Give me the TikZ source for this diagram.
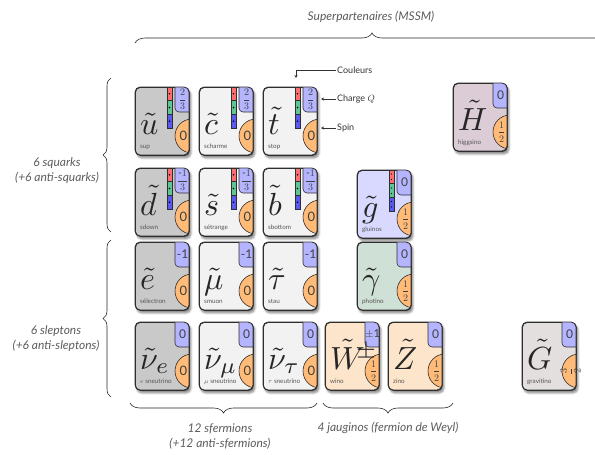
\documentclass[tikz,border=0pt]{standalone}
\usepackage{amsmath}
\usepackage{fontspec}
\setmainfont{Lato}
\usetikzlibrary{decorations.pathreplacing,arrows.meta,shadows.blur}

\definecolor{cardedge}{HTML}{2E2E2E}
\definecolor{fillA}{HTML}{C9C9C9}
\definecolor{fillB}{HTML}{F2F2F2}
\definecolor{fillGluon}{HTML}{D9D9FF}
\definecolor{fillPhoton}{HTML}{CFE0D6}
\definecolor{fillWeak}{HTML}{FDE5CC}
\definecolor{fillHiggs}{HTML}{DCCCD6}
\definecolor{fillGrav}{HTML}{E4DFDF}
\definecolor{spinorange}{HTML}{FFBB77}
\definecolor{chargeblue}{HTML}{B4B4FF}
\definecolor{colr}{HTML}{FF6F6F}
\definecolor{colg}{HTML}{5FC595}
\definecolor{colb}{HTML}{5A5AF0}
\definecolor{textgray}{HTML}{555555}
\definecolor{capgray}{HTML}{5C5C5C}

\newcommand\bigsym[1]{\scalebox{3.2}{$#1$}}

\tikzset{
  cardbox/.style={draw=cardedge, line width=0.8pt, rounded corners=5pt,
    minimum width=54pt, minimum height=68pt, anchor=north west, inner sep=0pt,
    blur shadow={shadow xshift=1.5pt, shadow yshift=-2.5pt, shadow blur steps=8, shadow opacity=50}},
  cardline/.style={draw=cardedge, line width=0.8pt, rounded corners=5pt},
  spinbox/.style={fill=spinorange, draw=cardedge, line width=0.6pt},
  chargebox/.style={fill=chargeblue, draw=cardedge, line width=0.6pt, rounded corners=4pt},
  stripedge/.style={draw=cardedge, line width=0.5pt},
  symlabel/.style={anchor=base west, inner sep=0pt, text=black!85},
  namelabel/.style={anchor=base west, inner sep=0pt, font=\fontsize{6.3}{7}\selectfont, text=textgray},
  chargelabel/.style={inner sep=0pt, font=\fontsize{12}{12}\selectfont, text=black!75},
  spinlabel/.style={inner sep=0pt, font=\fontsize{13}{13}\selectfont, text=black!75},
  caption/.style={inner sep=1pt, font=\fontsize{12}{15}\selectfont\itshape, text=capgray, align=center},
  annot/.style={inner sep=1pt, font=\fontsize{9}{10}\selectfont, text=black!80, anchor=west},
  annarrow/.style={draw=black!80, line width=0.5pt, -{Stealth[length=3pt,width=3pt]}},
  bracebar/.style={draw=black!85, line width=0.6pt, decorate, decoration={brace, amplitude=#1}},
}

% colour strip of a squark: red, green, blue cells with a dot each
\newcommand\quarkstrip{%
  \draw[stripedge, fill=colr] (32,0) rectangle (37,13.7);
  \draw[stripedge, fill=colg] (32,13.7) rectangle (37,27.3);
  \draw[stripedge, fill=colb] (32,27.3) rectangle (37,41);
  \foreach \yy in {6.8,20.5,34.2} \fill (34.5,\yy) circle (0.9);}
% colour strip of the gluino: colour/anticolour cells
\newcommand\gluonstrip{%
  \draw[stripedge, fill=colr] (32,0) rectangle (37,13.7);
  \draw[stripedge, fill=colg] (32,13.7) rectangle (37,27.3);
  \draw[stripedge, fill=colb] (32,27.3) rectangle (37,41);
  \foreach \yy in {4,9.5,18,23.5,31.5,37} \fill (34.5,\yy) circle (0.6);}

% #1 name, #2 top-left corner, #3 fill, #4 symbol, #5 name text,
% #6 charge, #7 spin, #8 colour strip
\newcommand\spart[8]{%
  \begin{scope}[shift={(#2)}]
    \node[cardbox, fill=#3] (#1) at (0,0) {};
    \begin{scope}
      \clip[rounded corners=5pt] (0,0) rectangle (54,68);
      \draw[spinbox] (57,49) circle (17);
      \draw[chargebox] (40,-6) -- (40,25) -- (60,25) -- (60,-6);
    \end{scope}
    \draw[cardline] (0,0) rectangle (54,68);
    #8
    \node[symlabel] at (5,47) {\bigsym{#4}};
    \node[namelabel] at (5,61) {#5};
    \node[chargelabel] at (47.5,12.5) {#6};
    \node[spinlabel] at (48.5,49) {#7};
  \end{scope}}

\newcommand\fr[2]{{\fontsize{10}{10}\selectfont$\displaystyle\frac{#1}{#2}$}}

\begin{document}
\begin{tikzpicture}[x=1pt, y=-1pt]
\useasboundingbox (0,0) rectangle (595,455);

% squarks
\spart{su}{135,87}{fillA}{\tilde{u}}{sup}{\fr{2}{3}}{0}{\quarkstrip}
\spart{sc}{199,87}{fillB}{\tilde{c}}{scharme}{\fr{2}{3}}{0}{\quarkstrip}
\spart{st}{263,87}{fillB}{\tilde{t}}{stop}{\fr{2}{3}}{0}{\quarkstrip}
\spart{sd}{135,168}{fillA}{\tilde{d}}{sdown}{\fr{\text{-}1}{3}}{0}{\quarkstrip}
\spart{ss}{199,168}{fillB}{\tilde{s}}{sétrange}{\fr{\text{-}1}{3}}{0}{\quarkstrip}
\spart{sb}{263,168}{fillB}{\tilde{b}}{sbottom}{\fr{\text{-}1}{3}}{0}{\quarkstrip}

% sleptons
\spart{se}{135,242}{fillA}{\tilde{e}}{sélectron}{-1}{0}{}
\spart{smu}{199,242}{fillB}{\tilde{\mu}}{smuon}{-1}{0}{}
\spart{stau}{263,242}{fillB}{\tilde{\tau}}{stau}{-1}{0}{}
\spart{sne}{135,322}{fillA}{\tilde{\nu}_e}{$e$ sneutrino}{0}{0}{}
\spart{snmu}{199,322}{fillB}{\tilde{\nu}_\mu}{$\mu$ sneutrino}{0}{0}{}
\spart{sntau}{263,322}{fillB}{\tilde{\nu}_\tau}{$\tau$ sneutrino}{0}{0}{}

% gauginos
\spart{gl}{357,170}{fillGluon}{\tilde{g}}{gluinos}{0}{\fr{1}{2}}{\gluonstrip}
\spart{ph}{357,242}{fillPhoton}{\tilde{\gamma}}{photino}{0}{\fr{1}{2}}{}
\spart{wi}{325,322}{fillWeak}{\tilde{W}^{\!\!\pm}}{wino}{{\fontsize{11}{11}\selectfont$\pm$1}}{\fr{1}{2}}{}
\spart{zi}{388,322}{fillWeak}{\tilde{Z}}{zino}{0}{\fr{1}{2}}{}

% higgsino and gravitino
\spart{hi}{453,83}{fillHiggs}{\tilde{H}}{higgsino}{0}{\fr{1}{2}}{}
\spart{gr}{522,322}{fillGrav}{\tilde{G}}{gravitino}{0}{\rotatebox{90}{\fr{3}{2}}}{}

% legend arrows on the stop card
\node[annot] (lcol) at (336,70) {Couleurs};
\coordinate (pcol) at (296,78);
\draw[annarrow] (lcol.west) -| (pcol);
\node[annot] (lq) at (336,99) {Charge $Q$};
\coordinate (pq) at (321,99);
\draw[annarrow] (lq.west) -- (pq);
\node[annot] (ls) at (336,128) {Spin};
\coordinate (ps) at (321,128);
\draw[annarrow] (ls.west) -- (ps);

% group braces
\coordinate (btl) at (135,43);
\coordinate (btr) at (609,43);
\draw[bracebar=10pt] (btl) -- (btr);
\node[caption] (ttop) at (371,17) {Superpartenaires (MSSM)};

\coordinate (bqb) at (111,232);
\coordinate (bqt) at (111,78);
\draw[bracebar=8pt] (bqb) -- (bqt);
\node[caption] (tsq) at (57,171) {6 squarks\\(+6 anti-squarks)};

\coordinate (blb) at (111,397);
\coordinate (blt) at (111,240);
\draw[bracebar=8pt] (blb) -- (blt);
\node[caption] (tsl) at (56,339) {6 sleptons\\(+6 anti-sleptons)};

\coordinate (bfr) at (317,403);
\coordinate (bfl) at (130,403);
\draw[bracebar=10pt] (bfr) -- (bfl);
\node[caption] (tsf) at (220,436) {12 sfermions\\(+12 anti-sfermions)};

\coordinate (bjr) at (453,403);
\coordinate (bjl) at (323,403);
\draw[bracebar=10pt] (bjr) -- (bjl);
\node[caption] (tjg) at (388,428) {4 jauginos (fermion de Weyl)};
\end{tikzpicture}
\end{document}
